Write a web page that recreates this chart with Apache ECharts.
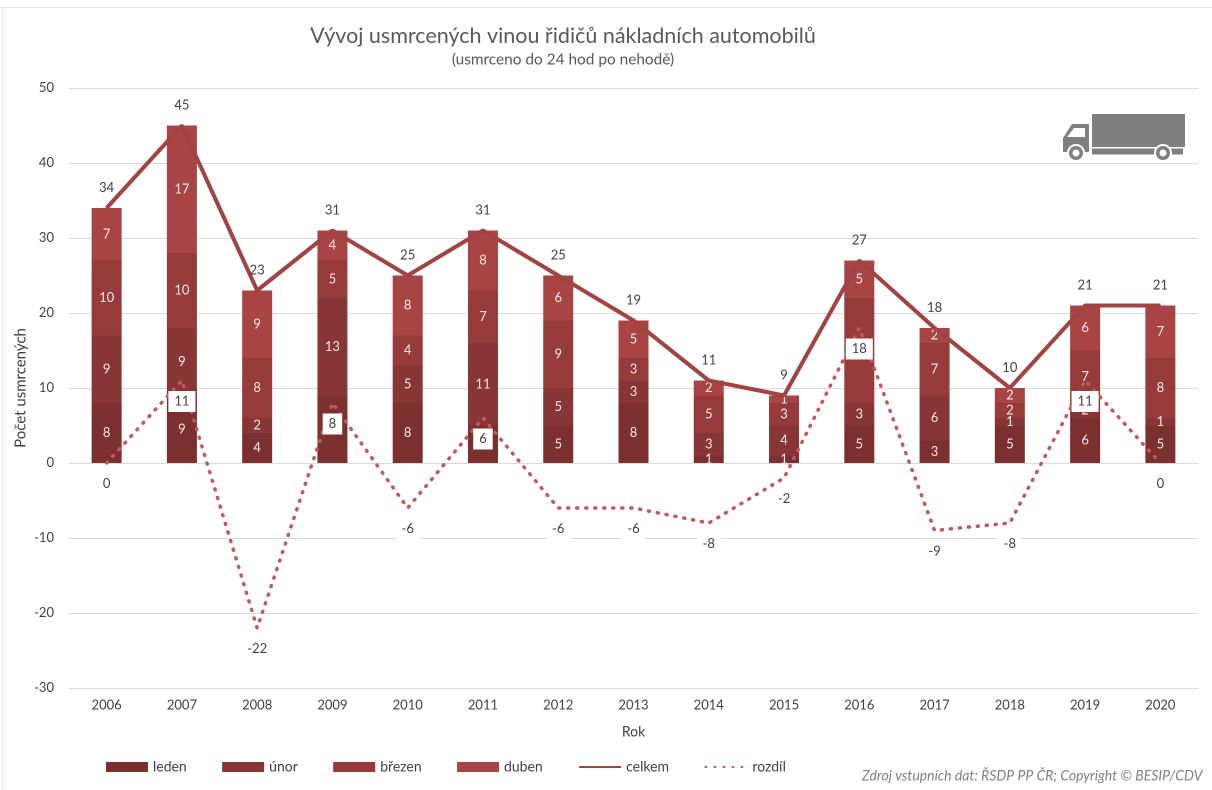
<!DOCTYPE html>
<html><head><meta charset="utf-8">
<style>html,body{margin:0;padding:0;background:#fff}#c{width:1212px;height:790px}</style>
<script src="https://cdn.jsdelivr.net/npm/echarts@6/dist/echarts.min.js"></script>
</head><body><div id="c"></div>
<script>
const years = ['2006','2007','2008','2009','2010','2011','2012','2013','2014','2015','2016','2017','2018','2019','2020'];
const leden  = [8,9,4,9,8,5,5,8,1,1,5,3,5,6,5];
const unor   = [9,9,2,13,5,11,5,3,3,4,3,6,1,2,1];
const brezen = [10,10,8,5,4,7,9,3,5,3,14,7,2,7,8];
const duben  = [7,17,9,4,8,8,6,5,2,1,5,2,2,6,7];
const celkem = [34,45,23,31,25,31,25,19,11,9,27,18,10,21,21];
const rozdil = [0,11,-22,8,-6,6,-6,-6,-8,-2,18,-9,-8,11,0];
const FONT = 'Lato';
const TXT = '#404040';
function bar(name, data, color){
  return {name, type:'bar', stack:'a', data, barWidth:30, z:2,
    itemStyle:{color},
    label:{show:true, position:'inside', color:'#f6e9e9', fontFamily:FONT, fontSize:13}};
}
const noDot = {color:'transparent', borderWidth:0};
const chart = echarts.init(document.getElementById('c'), null, {renderer:'canvas', devicePixelRatio:2});
chart.setOption({
  animation:false,
  backgroundColor:'#fff',
  title:{left:558, top:20, textAlign:'center', text:'Vývoj usmrcených vinou řidičů nákladních automobilů',
    subtext:'(usmrceno do 24 hod po nehodě)', itemGap:5,
    textStyle:{fontFamily:FONT, fontSize:21.5, fontWeight:'normal', color:'#595959'},
    subtextStyle:{fontFamily:FONT, fontSize:15.4, color:'#595959'}},
  grid:{left:69, right:14, top:88, bottom:102},
  legend:{left:101, top:755, itemWidth:42, itemHeight:10, itemGap:35.4,
    textStyle:{fontFamily:FONT, fontSize:14, color:TXT},
    data:[{name:'leden',icon:'rect'},{name:'únor',icon:'rect'},{name:'březen',icon:'rect'},{name:'duben',icon:'rect'},
      {name:'celkem', itemStyle:noDot},{name:'rozdíl', itemStyle:noDot}]},
  xAxis:{type:'category', data:years, name:'Rok', nameLocation:'middle', nameGap:37,
    nameTextStyle:{fontFamily:FONT, fontSize:14, color:TXT},
    axisLine:{onZero:false, show:false}, axisTick:{show:false},
    axisLabel:{fontFamily:FONT, fontSize:13, color:TXT, margin:11}},
  yAxis:{type:'value', min:-30, max:50, interval:10, name:'Počet usmrcených', nameLocation:'middle', nameGap:41, nameMoveOverlap:false,
    nameTextStyle:{fontFamily:FONT, fontSize:15, color:TXT},
    axisLine:{show:false}, axisTick:{show:false},
    axisLabel:{fontFamily:FONT, fontSize:13, color:TXT, margin:15},
    splitLine:{lineStyle:{color:'#d9d9d9', width:1}}},
  series:[
    bar('leden', leden, '#7b2f2f'),
    bar('únor', unor, '#883535'),
    bar('březen', brezen, '#963a3a'),
    bar('duben', duben, '#a84544'),
    {name:'rozdíl', type:'line', data:rozdil, z:6, symbol:'circle', symbolSize:1, showAllSymbol:true,
      lineStyle:{color:'#c0585c', width:3.5, type:[1,8], cap:'round'},
      itemStyle:{color:'#c0585c'},
      label:{show:true, position:'bottom', distance:10, color:TXT, fontFamily:FONT, fontSize:13,
        backgroundColor:'#fff', padding:[4,6]}},
    {name:'celkem', type:'line', data:celkem, z:5, symbol:'circle', symbolSize:1, showAllSymbol:true,
      lineStyle:{color:'#a04342', width:4},
      itemStyle:{color:'#a04342'},
      label:{show:true, position:'top', distance:13, color:TXT, fontFamily:FONT, fontSize:13}}
  ],
  graphic:[
    {type:'rect', silent:true, shape:{x:0,y:7,width:1212,height:1}, style:{fill:'#e4e4e4'}},
    {type:'rect', silent:true, shape:{x:2,y:7,width:1,height:783}, style:{fill:'#e4e4e4'}},
    {type:'text', silent:true, left:862, top:769, style:{text:'Zdroj vstupních dat: ŘSDP PP ČR; Copyright © BESIP/CDV',
      font:'italic 14px '+FONT, fill:'#7f7f7f'}},
    {type:'rect', silent:true, shape:{x:1092,y:114,width:93,height:33}, style:{fill:'#7f7f7f'}},
    {type:'rect', silent:true, shape:{x:1092,y:148.5,width:91,height:6}, style:{fill:'#7f7f7f'}},
    {type:'polygon', silent:true, shape:{points:[[1072,124],[1089,124],[1089,152],[1063,152],[1063,138]]}, style:{fill:'#7f7f7f'}},
    {type:'polygon', silent:true, shape:{points:[[1074,128],[1085,128],[1085,137],[1067,137]]}, style:{fill:'#fff'}},
    {type:'circle', silent:true, shape:{cx:1076,cy:153,r:9}, style:{fill:'#fff'}},
    {type:'circle', silent:true, shape:{cx:1076,cy:153,r:7}, style:{fill:'#7f7f7f'}},
    {type:'circle', silent:true, shape:{cx:1076,cy:153,r:3.5}, style:{fill:'#fff'}},
    {type:'circle', silent:true, shape:{cx:1163,cy:153,r:9}, style:{fill:'#fff'}},
    {type:'circle', silent:true, shape:{cx:1163,cy:153,r:7}, style:{fill:'#7f7f7f'}},
    {type:'circle', silent:true, shape:{cx:1163,cy:153,r:3.5}, style:{fill:'#fff'}}
  ]
});
</script></body></html>
